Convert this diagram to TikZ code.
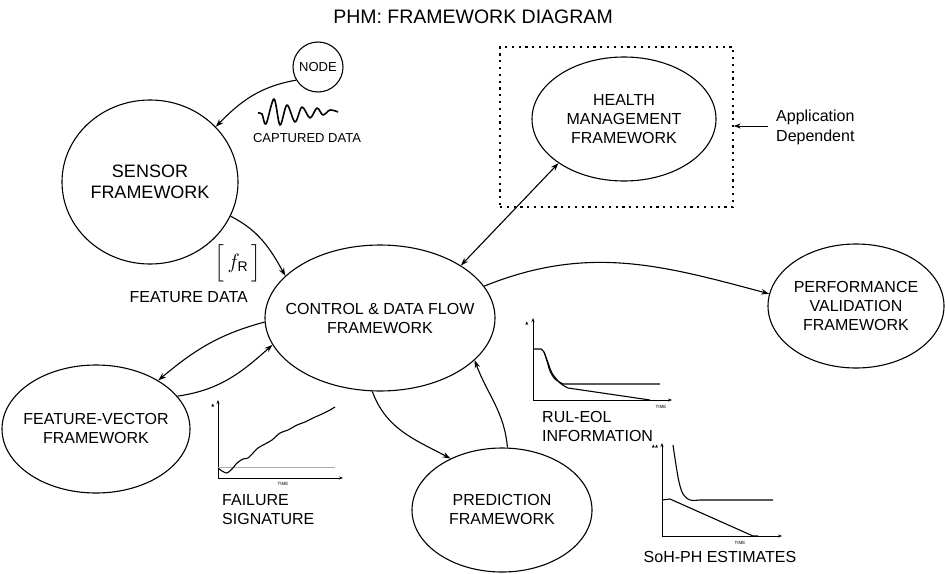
\documentclass[tikz,border=0pt]{standalone}
\usepackage{amsmath}
\usepackage{fontspec}
\setmainfont{Liberation Sans}
\newfontfamily\symfont{DejaVu Sans}
\usetikzlibrary{shapes.geometric,arrows.meta}
\begin{document}
\begin{tikzpicture}[x=1pt,y=1pt,
  frame/.style={draw, ellipse, line width=1.1pt, inner sep=0pt},
  lbl/.style={align=center, inner sep=0pt, font=\fontsize{16}{19}\selectfont},
  note/.style={align=left, inner sep=0pt, font=\fontsize{16}{19.5}\selectfont},
  conn/.style={line width=1.1pt, -{Stealth[length=8pt,width=5.5pt]}},
  biconn/.style={line width=1.1pt, {Stealth[length=8pt,width=5.5pt]}-{Stealth[length=8pt,width=5.5pt]}},
  axes/.style={line width=0.9pt, {Stealth[length=4pt,width=3pt]}-{Stealth[length=4pt,width=3pt]}},
  trace/.style={line width=1.1pt, line join=round},
  tiny/.style={inner sep=0pt, font=\fontsize{4.5}{5}\selectfont},
  axistag/.style={inner sep=0pt, font=\symfont\fontsize{4}{4}\selectfont},
]
\useasboundingbox (0,0) rectangle (945,-573);

% title
\node[font=\fontsize{19.5}{24}\selectfont, inner sep=0pt] (title) at (473,-17) {PHM: FRAMEWORK DIAGRAM};

% frameworks
\node[draw, circle, line width=1.1pt, minimum size=50pt, inner sep=0pt,
      font=\fontsize{13}{15}\selectfont] (nd) at (318,-67) {NODE};
\node[frame, minimum width=176pt, minimum height=164pt] (sensor) at (150,-182) {};
\node[lbl, font=\fontsize{18}{21}\selectfont] (sensorT) at (sensor) {SENSOR\\FRAMEWORK};
\node[frame, minimum width=184pt, minimum height=124pt] (health) at (624,-119) {};
\node[lbl] (healthT) at (health) {HEALTH\\MANAGEMENT\\FRAMEWORK};
\node[frame, minimum width=230pt, minimum height=146pt] (ctrl) at (380,-318) {};
\node[lbl] (ctrlT) at (ctrl) {CONTROL \& DATA FLOW\\FRAMEWORK};
\node[frame, minimum width=176pt, minimum height=124pt] (perf) at (856,-306) {};
\node[lbl] (perfT) at (perf) {PERFORMANCE\\VALIDATION\\FRAMEWORK};
\node[frame, minimum width=188pt, minimum height=128pt] (fv) at (96,-429) {};
\node[lbl] (fvT) at (96,-428) {FEATURE-VECTOR\\FRAMEWORK};
\node[frame, minimum width=180pt, minimum height=124pt] (pred) at (502,-510) {};
\node[lbl] (predT) at (502,-509) {PREDICTION\\FRAMEWORK};

% application-dependent enclosure
\node[draw, line width=1.3pt, dash pattern=on 2.2pt off 4.6pt,
      minimum width=233pt, minimum height=160pt, inner sep=0pt] (box) at (616.5,-127) {};
\node[note, anchor=west] (app) at (776,-127.5) {Application\\Dependent};
\draw[line width=1pt, -{Stealth[length=7pt,width=5pt]}] ([xshift=-8pt,yshift=1.5pt]app.west) -- ([yshift=1.5pt]box.east |- app.west);

% captured data
\node[font=\fontsize{13}{15}\selectfont, inner sep=0pt] (cap) at (307,-138) {CAPTURED DATA};
\draw[line width=1.6pt, line join=round] plot[smooth, tension=0.55] coordinates
  {(258,-113) (262,-114) (266,-124) (274,-99) (280,-125) (287,-105) (295,-122)
   (302,-107) (310,-118) (317,-108) (323,-115) (330,-110) (338,-112)};

% feature data
\node (fr) at (238,-263) {\fontsize{20}{24}\selectfont$\left[\rule[-12pt]{0pt}{36pt}\,f_{\text{R}}\,\right]$};
\node[note, anchor=east] (fdata) at (248,-297) {FEATURE DATA};

% connectors
\draw[conn] (nd.211) to[out=190,in=46] (sensor.40.7);
\draw[conn] (sensor.-23.1) to[out=-27,in=119] (ctrl.156.3);
\draw[biconn] (ctrl.33.5) -- (health.214.9);
\draw[conn] (ctrl.17) to[out=22,in=165] (perf.172.9);
\draw[conn] (ctrl.182) to[out=195,in=40] (fv.38.8);
\draw[conn] (fv.22) to[out=8,in=222] (ctrl.194.2);
\draw[conn] (ctrl.264.6) to[out=-70,in=152] (pred.135.5);
\draw[conn] (pred.85.4) to[out=95,in=-70] (ctrl.-24);

% failure signature chart
\draw[axes] (218,-400) |- (343,-478);
\draw[gray!65, line width=1pt] (218,-467) -- (335,-467);
\draw[trace] plot[smooth, tension=0.5] coordinates
  {(218,-468) (222,-471) (227,-473) (232,-469) (237,-463) (243,-459) (248,-458)
   (253,-453) (258,-448) (265,-444) (272,-440) (280,-433) (288,-430) (297,-425)
   (305,-422) (313,-418) (322,-414) (330,-410) (335,-407)};
\node[tiny] (t1) at (283,-484) {TIME};
\node[axistag] (m1) at (213,-405) {▲};
\node[note, anchor=west] (fsig) at (222,-509.5) {FAILURE\\SIGNATURE};

% RUL-EOL chart
\draw[axes] (533,-318) |- (672,-400);
\draw[trace] (533,-349) -- (541,-349) plot[smooth, tension=0.5] coordinates
  {(541,-349) (544,-352) (547,-361) (550,-371) (555,-379) (563,-384)} -- (660,-384);
\draw[trace] plot[smooth, tension=0.5] coordinates
  {(544,-352) (547,-360) (552,-373) (560,-383) (568,-388)} -- (650,-400);
\node[tiny] (t2) at (661,-407) {TIME};
\node[axistag] (m2) at (527,-323) {▲};
\node[note, anchor=west] (rul) at (542,-426.5) {RUL-EOL\\INFORMATION};

% SoH-PH chart
\draw[axes] (662,-443) |- (782,-536);
\draw[trace] plot[smooth, tension=0.5] coordinates
  {(673,-445) (676,-465) (679,-482) (683,-494) (690,-500) (700,-500)} -- (773,-500);
\draw[trace] (662,-500) -- (670,-499) -- (753,-536) -- (758,-536);
\node[tiny] (t3) at (740,-543) {TIME};
\node[axistag] (m3) at (655,-446) {▲▲};
\node[font=\fontsize{16}{20}\selectfont, inner sep=0pt] (soh) at (720,-557) {SoH-PH ESTIMATES};
\end{tikzpicture}
\end{document}
